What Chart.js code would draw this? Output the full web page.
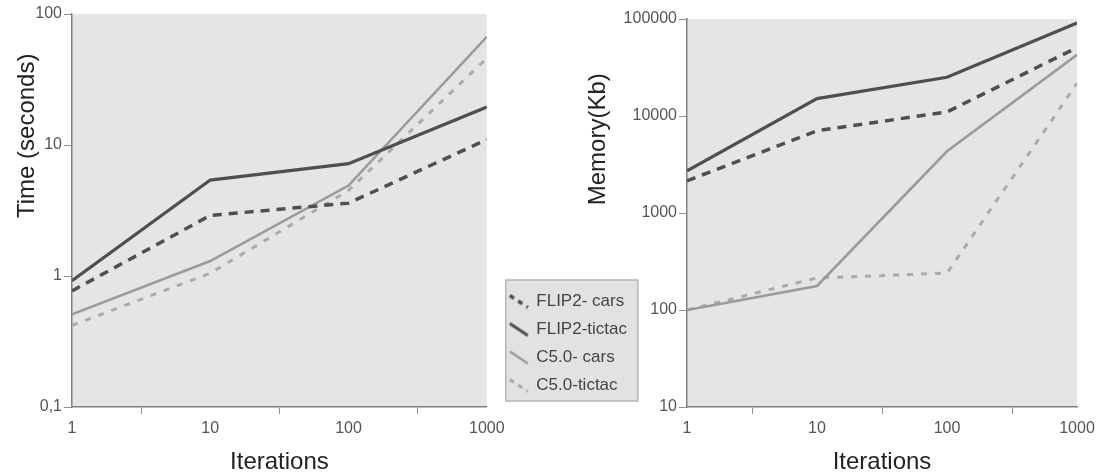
<!DOCTYPE html>
<html>
<head>
<meta charset="utf-8">
<script src="https://cdn.jsdelivr.net/npm/chart.js@4/dist/chart.umd.min.js"></script>
<style>
  html, body { margin: 0; padding: 0; background: #fff; }
  #wrap { position: relative; width: 1100px; height: 474px; overflow: hidden; }
  #timeBox { position: absolute; left: 0; top: 0; width: 645px; height: 474px; }
  #memBox { position: absolute; left: 560px; top: 0; width: 540px; height: 474px; }
</style>
</head>
<body>
<div id="wrap">
  <div id="timeBox"><canvas id="timeChart"></canvas></div>
  <div id="memBox"><canvas id="memChart"></canvas></div>
</div>
<script>
// iterations (x categories)
const iterations = ['1', '10', '100', '1000'];

// time in seconds
const timeFlipCars = [0.77, 2.9, 3.6, 11];
const timeFlipTictac = [0.92, 5.4, 7.2, 19.5];
const timeC5Cars = [0.51, 1.3, 4.9, 67];
const timeC5Tictac = [0.42, 1.05, 4.5, 46];

// memory in Kb
const memFlipCars = [2150, 7050, 11000, 50700];
const memFlipTictac = [2720, 15100, 25100, 90800];
const memC5Cars = [100, 177, 4330, 42700];
const memC5Tictac = [100, 214, 240, 21700];

const seriesNames = ['FLIP2- cars', 'FLIP2-tictac', 'C5.0- cars', 'C5.0-tictac'];
const timeTicks = [0.1, 1, 10, 100];
const timeTickLabels = ['0,1', '1', '10', '100'];
const memTicks = [10, 100, 1000, 10000, 100000];
const memTickLabels = ['10', '100', '1000', '10000', '100000'];

const FONT = 'Liberation Sans, Arial, sans-serif';

const styles = [
  { color: '#4f4f4f', width: 3.5, dash: [9, 7] },
  { color: '#4f4f4f', width: 3.2, dash: [] },
  { color: '#9b9b9b', width: 2.6, dash: [] },
  { color: '#ababab', width: 3, dash: [6, 8] }
];

function pts(arr) {
  return arr.map((v, i) => ({ x: i, y: v }));
}

function makeSets(lists) {
  return lists.map((arr, i) => ({
    label: seriesNames[i],
    data: pts(arr),
    borderColor: styles[i].color,
    backgroundColor: styles[i].color,
    borderWidth: styles[i].width,
    borderDash: styles[i].dash,
    borderCapStyle: 'butt',
    pointRadius: 0,
    tension: 0,
    fill: false
  }));
}

// little diagonal strokes used as legend symbols
function legendSymbol(st) {
  const c = document.createElement('canvas');
  c.width = 22; c.height = 16;
  const g = c.getContext('2d');
  g.strokeStyle = st.color;
  g.lineWidth = st.width;
  g.setLineDash(st.dash.length ? [5, 5] : []);
  g.beginPath();
  g.moveTo(2, 2);
  g.lineTo(20, 14);
  g.stroke();
  return c;
}

const plotBg = {
  id: 'plotBg',
  afterLayout(chart, args, opts) {
    // nudge the legend a little to the right of the plot
    const lg = chart.legend;
    if (lg && opts.legendShift) {
      lg.left += opts.legendShift;
      lg.right += opts.legendShift;
      lg.top -= 2;
      lg.bottom -= 2;
    }
  },
  beforeDraw(chart) {
    const a = chart.chartArea;
    const ctx = chart.ctx;
    ctx.save();
    ctx.fillStyle = '#e5e5e5';
    ctx.fillRect(a.left, a.top, a.right - a.left, a.bottom - a.top);
    const lg = chart.legend;
    if (lg && lg.options.display && lg.legendHitBoxes && lg.legendHitBoxes.length) {
      const hb = lg.legendHitBoxes;
      const l = hb[0].left - 4;
      const t = hb[0].top - 13;
      const b = hb[hb.length - 1].top + hb[hb.length - 1].height + 7;
      const r = l + 132;
      ctx.fillStyle = '#e2e2e2';
      ctx.fillRect(l, t, r - l, b - t);
      ctx.strokeStyle = '#b5b5b5';
      ctx.lineWidth = 1.5;
      ctx.strokeRect(l, t, r - l, b - t);
    }
    ctx.restore();
  },
  afterDraw(chart, args, opts) {
    // y axis title, placed in the upper part of the axis as in the original
    const s = chart.scales.y;
    if (!opts.yTitle) return;
    const ctx = chart.ctx;
    ctx.save();
    ctx.translate(s.left + opts.yTitleX, s.top + (s.bottom - s.top) * 0.31);
    ctx.rotate(-Math.PI / 2);
    ctx.font = '24px ' + FONT;
    ctx.fillStyle = '#222';
    ctx.textAlign = 'center';
    ctx.textBaseline = 'middle';
    ctx.fillText(opts.yTitle, 0, 0);
    ctx.restore();
  }
};

function xAxis() {
  return {
    type: 'linear',
    min: 0,
    max: 3,
    afterBuildTicks(scale) {
      scale.ticks = [0, 0.5, 1, 1.5, 2, 2.5, 3].map(v => ({ value: v }));
    },
    afterFit(scale) { scale.height = 67; },
    border: { color: '#808080', width: 1.5 },
    grid: {
      drawOnChartArea: false,
      drawTicks: true,
      tickLength: 7,
      color: ctx => (ctx.tick && ctx.tick.value % 1 !== 0) ? '#909090' : 'rgba(0,0,0,0)'
    },
    ticks: {
      autoSkip: false,
      maxRotation: 0,
      padding: 5,
      color: '#555',
      font: { family: FONT, size: 16 },
      callback: v => (v % 1 === 0 ? iterations[v] : '')
    },
    title: {
      display: true,
      text: 'Iterations',
      color: '#222',
      padding: { top: 0, bottom: 0 },
      font: { family: FONT, size: 24, lineHeight: 1 }
    }
  };
}

function yAxis(min, max, tickVals, tickLabels, width) {
  return {
    type: 'logarithmic',
    min: min,
    max: max,
    afterBuildTicks(scale) {
      scale.ticks = tickVals.map(v => ({ value: v }));
    },
    afterFit(scale) { scale.width = width; },
    border: { color: '#808080', width: 1.5 },
    grid: { drawOnChartArea: false, tickLength: 8, color: '#909090' },
    ticks: {
      autoSkip: false,
      padding: 2,
      color: '#555',
      font: { family: FONT, size: 16 },
      callback: (v) => {
        const i = tickVals.indexOf(v);
        return i >= 0 ? tickLabels[i] : '';
      }
    },
    title: { display: false }
  };
}

new Chart(document.getElementById('timeChart'), {
  type: 'line',
  data: { datasets: makeSets([timeFlipCars, timeFlipTictac, timeC5Cars, timeC5Tictac]) },
  options: {
    responsive: true,
    maintainAspectRatio: false,
    animation: false,
    layout: { padding: { top: 14, left: 0, right: 20, bottom: 0 } },
    scales: {
      x: xAxis(),
      y: yAxis(0.1, 100, timeTicks, timeTickLabels, 72)
    },
    plugins: {
      plotBg: { yTitle: 'Time (seconds)', yTitleX: 27, legendShift: 12 },
      tooltip: { enabled: false },
      legend: {
        display: true,
        position: 'right',
        align: 'end',
        fullSize: false,
        labels: {
          usePointStyle: true,
          pointStyleWidth: 18,
          boxHeight: 15,
          padding: 11,
          color: '#444',
          font: { family: FONT, size: 17 },
          generateLabels(chart) {
            return chart.data.datasets.map((ds, i) => ({
              text: ds.label,
              pointStyle: legendSymbol(styles[i]),
              fillStyle: 'rgba(0,0,0,0)',
              strokeStyle: 'rgba(0,0,0,0)',
              lineWidth: 0,
              fontColor: '#444',
              hidden: false,
              datasetIndex: i
            }));
          }
        }
      }
    }
  },
  plugins: [plotBg]
});

new Chart(document.getElementById('memChart'), {
  type: 'line',
  data: { datasets: makeSets([memFlipCars, memFlipTictac, memC5Cars, memC5Tictac]) },
  options: {
    responsive: true,
    maintainAspectRatio: false,
    animation: false,
    layout: { padding: { top: 19, left: 0, right: 23, bottom: 0 } },
    scales: {
      x: xAxis(),
      y: yAxis(10, 100000, memTicks, memTickLabels, 127)
    },
    plugins: {
      plotBg: { yTitle: 'Memory(Kb)', yTitleX: 38 },
      tooltip: { enabled: false },
      legend: { display: false }
    }
  },
  plugins: [plotBg]
});
</script>
</body>
</html>
